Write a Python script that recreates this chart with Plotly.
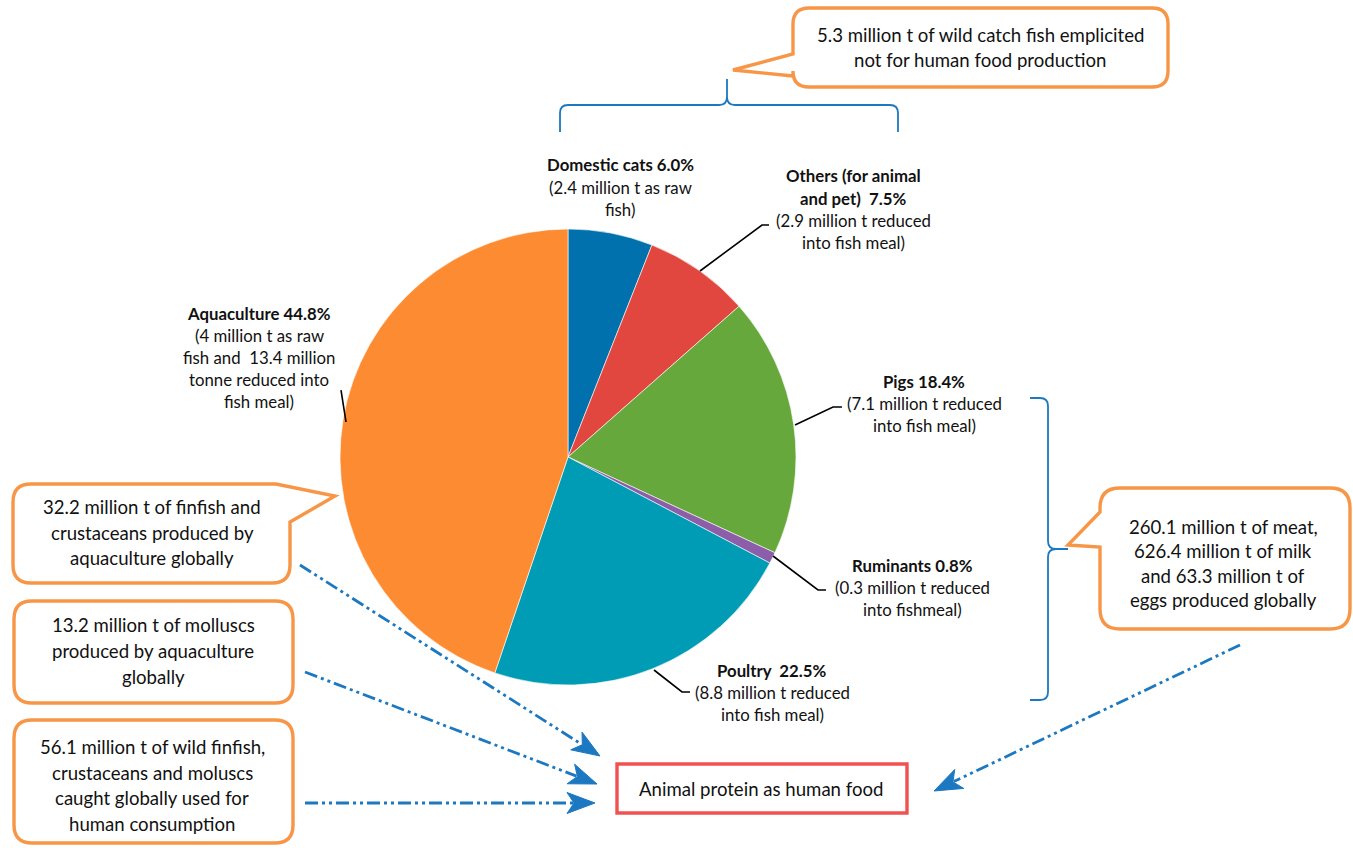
import plotly.graph_objects as go
import math

# ---------------- data ----------------
categories = ["Domestic cats", "Others (for animal and pet)", "Pigs", "Ruminants", "Poultry", "Aquaculture"]
shares = [6.0, 7.5, 18.4, 0.8, 22.5, 44.8]
colors = ["#0071AC", "#E1463F", "#67A83D", "#8C5DA8", "#009BB4", "#FD8B32"]
heading_lines = [
    ["Domestic cats {p}%"],
    ["Others (for animal", "and pet)  {p}%"],
    ["Pigs {p}%"],
    ["Ruminants {p}%"],
    ["Poultry  {p}%"],
    ["Aquaculture {p}%"],
]
detail_lines = [
    ["(2.4 million t as raw", "fish)"],
    ["(2.9 million t reduced", "into fish meal)"],
    ["(7.1 million t reduced", "into fish meal)"],
    ["(0.3 million t reduced", "into fishmeal)"],
    ["(8.8 million t reduced", "into fish meal)"],
    ["(4 million t as raw", "fish and  13.4 million", "tonne reduced into", "fish meal)"],
]
callout_texts = {
    "top": ["5.3 million t of wild catch fish emplicited", "not for human food production"],
    "right": ["260.1 million t of meat,", "626.4 million t of milk", "and 63.3 million t of", "eggs produced globally"],
    "left1": ["32.2 million t of finfish and", "crustaceans produced by", "aquaculture globally"],
    "left2": ["13.2 million t of molluscs", "produced by aquaculture", "globally"],
    "left3": ["56.1 million t of wild finfish,", "crustaceans and moluscs", "caught globally used for", "human consumption"],
}
target_text = "Animal protein as human food"

# ---------------- layout helpers ----------------
W, H = 1353, 848
FONT = "Lato, 'Open Sans', sans-serif"
ORANGE = "#F79646"
BLUE = "#1C78C0"
TXT = "#111111"
LABEL_SIZE = 16.8
CALLOUT_SIZE = 18.6


def px(x):
    return x / W


def py(y):
    return 1 - y / H


def P(x, y):
    return f"{px(x):.5f},{py(y):.5f}"


fig = go.Figure()

# pie
cx, cy, R = 568, 457, 228
fig.add_trace(go.Pie(
    labels=categories, values=shares, sort=False, direction="clockwise", rotation=0,
    marker=dict(colors=colors, line=dict(color="white", width=0.6)),
    textinfo="none", hoverinfo="label+percent", showlegend=False,
    domain=dict(x=[px(cx - R), px(cx + R)], y=[py(cy + R), py(cy - R)]),
))

shapes = []
annotations = []


def add_text(lines, xc, y0, dy, size, bold_n=0):
    for i, t in enumerate(lines):
        txt = f"<b>{t}</b>" if i < bold_n else t
        annotations.append(dict(
            x=px(xc), y=py(y0 + i * dy), xref="paper", yref="paper", text=txt,
            showarrow=False, xanchor="center", yanchor="middle",
            font=dict(family=FONT, size=size, color=TXT)))


# slice labels
label_pos = [(620, 165), (853, 176), (924, 381), (912, 565), (772, 670), (259, 313)]
for i in range(len(categories)):
    heads = [h.format(p=f"{shares[i]:.1f}") for h in heading_lines[i]]
    xc, y0 = label_pos[i]
    add_text(heads + detail_lines[i], xc, y0, 22.2, LABEL_SIZE, bold_n=len(heads))

# leader lines
leaders = [
    [(700, 271), (762, 225), (769, 225)],
    [(795, 425), (833, 407), (842, 407)],
    [(773, 556), (818, 590), (826, 590)],
    [(654, 670), (682, 692), (690, 692)],
    [(341, 390), (346, 422)],
]
for pts in leaders:
    d = "M " + " L ".join(P(x, y) for x, y in pts)
    shapes.append(dict(type="path", xref="paper", yref="paper", path=d,
                       line=dict(color="black", width=1.6)))


def rr_path(x0, y0, x1, y1, r, left_tail=None, tr_tail=None):
    seg = [f"M {P(x0 + r, y0)}"]
    if tr_tail:
        a, tip, b = tr_tail
        seg += [f"L {P(*a)}", f"L {P(*tip)}", f"L {P(*b)}"]
    else:
        seg += [f"L {P(x1 - r, y0)}", f"Q {P(x1, y0)} {P(x1, y0 + r)}"]
    seg += [f"L {P(x1, y1 - r)}", f"Q {P(x1, y1)} {P(x1 - r, y1)}",
            f"L {P(x0 + r, y1)}", f"Q {P(x0, y1)} {P(x0, y1 - r)}"]
    if left_tail:
        a, tip, b = left_tail
        seg += [f"L {P(*a)}", f"L {P(*tip)}", f"L {P(*b)}"]
    seg += [f"L {P(x0, y0 + r)}", f"Q {P(x0, y0)} {P(x0 + r, y0)}", "Z"]
    return " ".join(seg)


def callout(path):
    shapes.append(dict(type="path", xref="paper", yref="paper", path=path,
                       line=dict(color=ORANGE, width=3.4), fillcolor="white", layer="above"))


callout(rr_path(793, 8, 1168, 87, 16, left_tail=((793, 76), (733, 70), (793, 54))))
add_text(callout_texts["top"], 980, 35, 25, CALLOUT_SIZE)

callout(rr_path(1100, 488, 1350, 629, 20, left_tail=((1100, 547), (1068, 545), (1100, 512))))
add_text(callout_texts["right"], 1223, 527, 24.3, CALLOUT_SIZE)

callout(rr_path(13, 484, 290, 583, 18, tr_tail=((276, 484), (335, 496), (290, 522))))
add_text(callout_texts["left1"], 152, 507, 25.5, CALLOUT_SIZE)

callout(rr_path(14, 601, 293, 703, 18))
add_text(callout_texts["left2"], 153, 625, 26, CALLOUT_SIZE)

callout(rr_path(14, 720, 293, 843, 18))
add_text(callout_texts["left3"], 152, 747, 25.5, CALLOUT_SIZE)

# target box
shapes.append(dict(type="rect", xref="paper", yref="paper",
                   x0=px(617), x1=px(907), y0=py(813), y1=py(764),
                   line=dict(color="#F05252", width=3.4), fillcolor="white"))
add_text([target_text], 761, 789, 0, CALLOUT_SIZE)

# braces
top_brace = ("M " + P(560, 132) + " L " + P(560, 113) + " Q " + P(560, 105) + " " + P(568, 105) +
             " L " + P(719, 105) + " Q " + P(727, 105) + " " + P(727, 97) + " L " + P(727, 79) +
             " M " + P(727, 97) + " Q " + P(727, 105) + " " + P(735, 105) +
             " L " + P(890, 105) + " Q " + P(898, 105) + " " + P(898, 113) + " L " + P(898, 132))
right_brace = ("M " + P(1030, 398) + " L " + P(1040, 398) + " Q " + P(1048, 398) + " " + P(1048, 406) +
               " L " + P(1048, 541) + " Q " + P(1048, 549) + " " + P(1056, 549) + " L " + P(1068, 549) +
               " M " + P(1056, 549) + " Q " + P(1048, 549) + " " + P(1048, 557) +
               " L " + P(1048, 692) + " Q " + P(1048, 700) + " " + P(1040, 700) + " L " + P(1030, 700))
for d in (top_brace, right_brace):
    shapes.append(dict(type="path", xref="paper", yref="paper", path=d,
                       line=dict(color=BLUE, width=1.8)))

# dash-dot-dot arrows
arrows = [((300, 565), (600, 756)), ((305, 672), (597, 784)),
          ((305, 803), (595, 803)), ((1240, 645), (934, 791))]
for (x0, y0), (x1, y1) in arrows:
    ang = math.atan2(y1 - y0, x1 - x0)
    ca, sa = math.cos(ang), math.sin(ang)
    L, Wd = 28, 10.5
    bx, by = x1 - L * ca, y1 - L * sa
    nx, ny = -sa, ca
    shapes.append(dict(type="line", xref="paper", yref="paper",
                       x0=px(x0), y0=py(y0), x1=px(bx + 6 * ca), y1=py(by + 6 * sa),
                       line=dict(color=BLUE, width=2.8, dash="13px,4px,3px,4px,3px,4px")))
    nb_x, nb_y = x1 - 0.75 * L * ca, y1 - 0.75 * L * sa
    tri = ("M " + P(x1, y1) + " L " + P(bx + Wd * nx, by + Wd * ny) +
           " L " + P(nb_x, nb_y) +
           " L " + P(bx - Wd * nx, by - Wd * ny) + " Z")
    shapes.append(dict(type="path", xref="paper", yref="paper", path=tri,
                       line=dict(color=BLUE, width=1), fillcolor=BLUE))

fig.update_layout(
    width=W, height=H, margin=dict(l=0, r=0, t=0, b=0),
    paper_bgcolor="white", plot_bgcolor="white",
    shapes=shapes, annotations=annotations, showlegend=False,
)
fig.write_html("out.html")
